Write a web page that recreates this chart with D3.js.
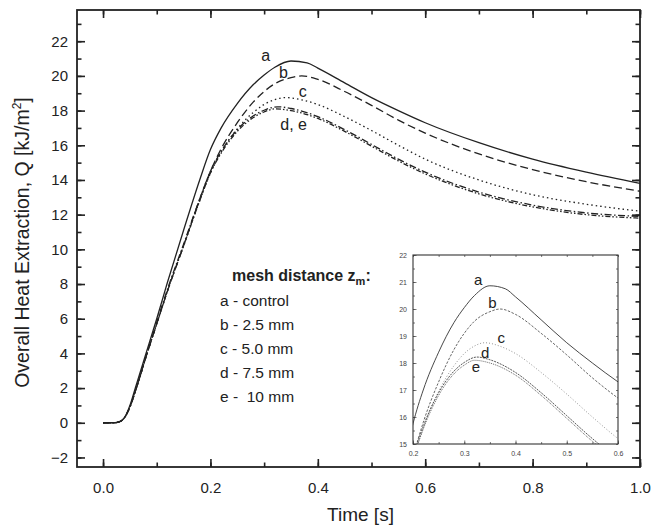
<!DOCTYPE html>
<html>
<head>
<meta charset="utf-8">
<script src="https://cdn.jsdelivr.net/npm/d3@7"></script>
<style>
  body { margin: 0; background: #fff; }
  svg { display: block; font-family: "Liberation Sans", Arial, sans-serif; }
</style>
</head>
<body>
<svg width="662" height="529"></svg>
<script>
var width = 662;
var height = 529;

// time samples (s) and overall heat extraction Q (kJ/m2) per curve
var timeA = [0, 0.02, 0.03, 0.04, 0.05, 0.06, 0.08, 0.10, 0.12, 0.15, 0.18, 0.20, 0.22, 0.25, 0.28, 0.30, 0.32, 0.35, 0.38, 0.40, 0.45, 0.50, 0.55, 0.60, 0.70, 0.80, 0.90, 1.00];
var curveA = [0, 0, 0.05, 0.3, 1.0, 2.0, 4.0, 6.0, 8.1, 11.1, 14.0, 15.75, 17.0, 18.4, 19.5, 20.05, 20.5, 20.86, 20.75, 20.45, 19.6, 18.75, 18.0, 17.3, 16.15, 15.2, 14.45, 13.8];

var timeB = [0, 0.02, 0.03, 0.04, 0.05, 0.06, 0.08, 0.10, 0.12, 0.15, 0.18, 0.20, 0.22, 0.25, 0.28, 0.30, 0.32, 0.35, 0.37, 0.40, 0.45, 0.50, 0.55, 0.60, 0.70, 0.80, 0.90, 1.00];
var curveB = [0, 0, 0.05, 0.3, 0.9, 1.8, 3.8, 5.7, 7.6, 10.2, 12.9, 14.5, 15.8, 17.3, 18.5, 19.1, 19.55, 19.9, 20.0, 19.8, 19.1, 18.3, 17.45, 16.7, 15.5, 14.6, 13.9, 13.35];

var timeC = [0, 0.02, 0.03, 0.04, 0.05, 0.06, 0.08, 0.10, 0.12, 0.15, 0.18, 0.20, 0.22, 0.25, 0.28, 0.30, 0.32, 0.34, 0.37, 0.40, 0.45, 0.50, 0.55, 0.60, 0.70, 0.80, 0.90, 1.00];
var curveC = [0, 0, 0.05, 0.3, 0.9, 1.8, 3.8, 5.7, 7.6, 10.2, 12.8, 14.4, 15.6, 16.95, 17.9, 18.35, 18.63, 18.75, 18.62, 18.35, 17.65, 16.85, 16.0, 15.2, 14.0, 13.15, 12.6, 12.2];

var timeD = [0, 0.02, 0.03, 0.04, 0.05, 0.06, 0.08, 0.10, 0.12, 0.15, 0.18, 0.20, 0.22, 0.25, 0.28, 0.30, 0.325, 0.35, 0.40, 0.45, 0.50, 0.55, 0.60, 0.70, 0.80, 0.90, 1.00];
var curveD = [0, 0, 0.05, 0.3, 0.9, 1.8, 3.8, 5.8, 7.7, 10.3, 12.9, 14.5, 15.65, 16.9, 17.7, 18.02, 18.22, 18.12, 17.65, 16.9, 16.05, 15.2, 14.45, 13.3, 12.55, 12.1, 11.9];

var timeE = [0, 0.02, 0.03, 0.04, 0.05, 0.06, 0.08, 0.10, 0.12, 0.15, 0.18, 0.20, 0.22, 0.25, 0.28, 0.30, 0.32, 0.35, 0.40, 0.45, 0.50, 0.55, 0.60, 0.70, 0.80, 0.90, 1.00];
var curveE = [0, 0, 0.05, 0.3, 0.9, 1.8, 3.8, 5.7, 7.6, 10.2, 12.8, 14.4, 15.55, 16.8, 17.6, 17.92, 18.1, 18.0, 17.55, 16.8, 15.95, 15.1, 14.35, 13.2, 12.45, 12.0, 11.8];

var curveNames = ["a", "b", "c", "d", "e"];
var legendLines = ["a - control", "b - 2.5 mm", "c - 5.0 mm", "d - 7.5 mm", "e -  10 mm"];
var xTicks = [0.0, 0.2, 0.4, 0.6, 0.8, 1.0];
var yTicks = [-2, 0, 2, 4, 6, 8, 10, 12, 14, 16, 18, 20, 22];
var insetXTicks = [0.2, 0.3, 0.4, 0.5, 0.6];
var insetYTicks = [15, 16, 17, 18, 19, 20, 21, 22];

var series = [
  {name: "a", t: timeA, q: curveA, dash: null, insetDash: null, insetColor: "#333"},
  {name: "b", t: timeB, q: curveB, dash: "8,4", insetDash: "2.5,1.5", insetColor: "#555"},
  {name: "c", t: timeC, q: curveC, dash: "1.5,3", insetDash: "1,2", insetColor: "#888"},
  {name: "d", t: timeD, q: curveD, dash: "7,2.5,1.5,2.5", insetDash: "2,1", insetColor: "#444"},
  {name: "e", t: timeE, q: curveE, dash: "5,2,1.5,2,1.5,2", insetDash: "1,1", insetColor: "#555"}
];

var svg = d3.select("svg");

// main plot frame
var mLeft = 77, mRight = 640, mTop = 10, mBottom = 467;

var xScale = d3.scaleLinear().domain([-0.0485, 1.0]).range([mLeft, mRight]);
var yScale = d3.scaleLinear().domain([-2.55, 23.8]).range([mBottom, mTop]);

var minorX = d3.range(0, 1.001, 0.1);
var minorY = d3.range(-2, 24, 1);

// ticks on all four sides, pointing inward
svg.append("g")
  .attr("transform", "translate(0," + mBottom + ")")
  .call(d3.axisBottom(xScale).tickValues(minorX).tickSize(-4.5).tickFormat(""))
  .call(g => g.select(".domain").remove());
svg.append("g")
  .attr("transform", "translate(0," + mBottom + ")")
  .call(d3.axisBottom(xScale).tickValues(xTicks).tickSize(-8).tickPadding(15).tickFormat(d3.format(".1f")))
  .call(g => g.select(".domain").remove());
svg.append("g")
  .attr("transform", "translate(0," + mTop + ")")
  .call(d3.axisTop(xScale).tickValues(minorX).tickSize(-4.5).tickFormat(""))
  .call(g => g.select(".domain").remove());
svg.append("g")
  .attr("transform", "translate(0," + mTop + ")")
  .call(d3.axisTop(xScale).tickValues(xTicks).tickSize(-8).tickFormat(""))
  .call(g => g.select(".domain").remove());

svg.append("g")
  .attr("transform", "translate(" + mLeft + ",0)")
  .call(d3.axisLeft(yScale).tickValues(minorY).tickSize(-4.5).tickFormat(""))
  .call(g => g.select(".domain").remove());
svg.append("g")
  .attr("transform", "translate(" + mLeft + ",0)")
  .call(d3.axisLeft(yScale).tickValues(yTicks).tickSize(-8).tickPadding(9).tickFormat(d3.format("d")))
  .call(g => g.select(".domain").remove());
svg.append("g")
  .attr("transform", "translate(" + mRight + ",0)")
  .call(d3.axisRight(yScale).tickValues(minorY).tickSize(-4.5).tickFormat(""))
  .call(g => g.select(".domain").remove());
svg.append("g")
  .attr("transform", "translate(" + mRight + ",0)")
  .call(d3.axisRight(yScale).tickValues(yTicks).tickSize(-8).tickFormat(""))
  .call(g => g.select(".domain").remove());

svg.selectAll(".tick line").attr("stroke", "#222").attr("stroke-width", 1.6);
svg.selectAll(".tick text").attr("font-size", 15).attr("fill", "#222")
  .attr("font-family", "'Liberation Sans', Arial, sans-serif");

svg.append("rect")
  .attr("x", mLeft).attr("y", mTop)
  .attr("width", mRight - mLeft).attr("height", mBottom - mTop)
  .attr("fill", "none").attr("stroke", "#222").attr("stroke-width", 1.8);

// curves
var line = d3.line()
  .x(d => xScale(d[0]))
  .y(d => yScale(d[1]))
  .curve(d3.curveMonotoneX);

svg.append("g").selectAll("path")
  .data(series)
  .enter()
  .append("path")
    .attr("d", s => line(s.t.map((t, i) => [t, s.q[i]])))
    .attr("fill", "none")
    .attr("stroke", "#222")
    .attr("stroke-width", 1.3)
    .attr("stroke-dasharray", s => s.dash);

// curve labels on main plot
var mainLabels = [
  {text: "a", t: 0.303, q: 20.85},
  {text: "b", t: 0.336, q: 19.9},
  {text: "c", t: 0.372, q: 18.8},
  {text: "d, e", t: 0.355, q: 16.9}
];
svg.append("g").selectAll("text")
  .data(mainLabels)
  .enter()
  .append("text")
    .attr("x", d => xScale(d.t))
    .attr("y", d => yScale(d.q))
    .attr("text-anchor", "middle")
    .attr("font-size", 16)
    .attr("fill", "#222")
    .text(d => d.text);

// legend
var legend = svg.append("g").attr("fill", "#222");
var header = legend.append("text")
  .attr("x", 232).attr("y", 281)
  .attr("font-size", 16).attr("font-weight", "bold");
header.append("tspan").text("mesh distance z");
header.append("tspan").attr("font-size", 11).attr("dy", 4).text("m");
header.append("tspan").attr("dy", -4).text(":");

legend.selectAll("text.item")
  .data(legendLines)
  .enter()
  .append("text")
    .attr("class", "item")
    .attr("x", 220)
    .attr("y", (d, i) => 306 + i * 24)
    .attr("font-size", 15.5)
    .style("white-space", "pre")
    .attr("xml:space", "preserve")
    .text(d => d);

// axis titles
svg.append("text")
  .attr("x", (mLeft + mRight) / 2 + 2)
  .attr("y", 521)
  .attr("text-anchor", "middle")
  .attr("font-size", 19)
  .attr("fill", "#222")
  .text("Time [s]");

var yTitle = svg.append("text")
  .attr("transform", "translate(29," + ((mTop + mBottom) / 2 + 4) + ") rotate(-90)")
  .attr("text-anchor", "middle")
  .attr("font-size", 19.5)
  .attr("fill", "#222");
yTitle.append("tspan").text("Overall Heat Extraction, Q [kJ/m");
yTitle.append("tspan").attr("font-size", 12).attr("dy", -8).text("2");
yTitle.append("tspan").attr("dy", 8).text("]");

// inset
var iLeft = 413, iRight = 618, iTop = 255, iBottom = 444;
var ixScale = d3.scaleLinear().domain([0.2, 0.6]).range([iLeft, iRight]);
var iyScale = d3.scaleLinear().domain([15, 22]).range([iBottom, iTop]);

var inset = svg.append("g");
inset.append("rect")
  .attr("x", iLeft).attr("y", iTop)
  .attr("width", iRight - iLeft).attr("height", iBottom - iTop)
  .attr("fill", "#fff");

svg.append("clipPath").attr("id", "insetClip")
  .append("rect")
  .attr("x", iLeft).attr("y", iTop)
  .attr("width", iRight - iLeft).attr("height", iBottom - iTop);

var iMinorX = d3.range(0.2, 0.601, 0.05);
var iMinorY = d3.range(15, 22.01, 0.5);

inset.append("g")
  .attr("transform", "translate(0," + iBottom + ")")
  .call(d3.axisBottom(ixScale).tickValues(iMinorX).tickSize(-2).tickFormat(""));
inset.append("g")
  .attr("transform", "translate(0," + iBottom + ")")
  .call(d3.axisBottom(ixScale).tickValues(insetXTicks).tickSize(-3.5).tickPadding(7).tickFormat(d3.format(".1f")));
inset.append("g")
  .attr("transform", "translate(0," + iTop + ")")
  .call(d3.axisTop(ixScale).tickValues(iMinorX).tickSize(-2).tickFormat(""));
inset.append("g")
  .attr("transform", "translate(" + iLeft + ",0)")
  .call(d3.axisLeft(iyScale).tickValues(iMinorY).tickSize(-2).tickFormat(""));
inset.append("g")
  .attr("transform", "translate(" + iLeft + ",0)")
  .call(d3.axisLeft(iyScale).tickValues(insetYTicks).tickSize(-3.5).tickPadding(6).tickFormat(d3.format("d")));
inset.append("g")
  .attr("transform", "translate(" + iRight + ",0)")
  .call(d3.axisRight(iyScale).tickValues(iMinorY).tickSize(-2).tickFormat(""));

inset.selectAll(".domain").remove();
inset.selectAll(".tick line").attr("stroke", "#555").attr("stroke-width", 0.8);
inset.selectAll(".tick text").attr("font-size", 7).attr("fill", "#444")
  .attr("font-family", "'Liberation Sans', Arial, sans-serif");

var iLine = d3.line()
  .x(d => ixScale(d[0]))
  .y(d => iyScale(d[1]))
  .curve(d3.curveMonotoneX);

inset.append("g")
  .attr("clip-path", "url(#insetClip)")
  .selectAll("path")
  .data(series)
  .enter()
  .append("path")
    .attr("d", s => iLine(s.t.map((t, i) => [t, s.q[i]])))
    .attr("fill", "none")
    .attr("stroke", s => s.insetColor)
    .attr("stroke-width", 0.9)
    .attr("stroke-dasharray", s => s.insetDash);

inset.append("rect")
  .attr("x", iLeft).attr("y", iTop)
  .attr("width", iRight - iLeft).attr("height", iBottom - iTop)
  .attr("fill", "none").attr("stroke", "#333").attr("stroke-width", 1.1);

var insetLabels = [
  {text: "a", t: 0.327, q: 20.9},
  {text: "b", t: 0.355, q: 20.05},
  {text: "c", t: 0.372, q: 18.75},
  {text: "d", t: 0.341, q: 18.2},
  {text: "e", t: 0.323, q: 17.65}
];
inset.append("g").selectAll("text")
  .data(insetLabels)
  .enter()
  .append("text")
    .attr("x", d => ixScale(d.t))
    .attr("y", d => iyScale(d.q))
    .attr("text-anchor", "middle")
    .attr("font-size", 15)
    .attr("fill", "#222")
    .text(d => d.text);
</script>
</body>
</html>
